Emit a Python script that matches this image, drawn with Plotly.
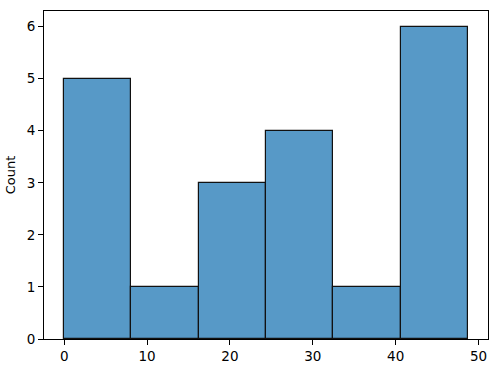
import plotly.graph_objects as go

bin_edges = [0.0, 8.117, 16.233, 24.35, 32.467, 40.583, 48.7]
counts = [5, 1, 3, 4, 1, 6]
x_ticks = [0, 10, 20, 30, 40, 50]
y_ticks = [0, 1, 2, 3, 4, 5, 6]

centers = [(a + b) / 2 for a, b in zip(bin_edges[:-1], bin_edges[1:])]
widths = [b - a for a, b in zip(bin_edges[:-1], bin_edges[1:])]

fig = go.Figure(go.Bar(
    x=centers, y=counts, width=widths,
    marker=dict(color="rgba(31,119,180,0.75)", line=dict(color="#111111", width=1.2)),
))

span = bin_edges[-1] - bin_edges[0]
axis_common = dict(
    showgrid=False, zeroline=False, showline=True, linecolor="black", linewidth=1,
    mirror=True, ticks="outside", ticklen=5, tickwidth=1, tickcolor="black",
    tickfont=dict(family="DejaVu Sans", size=13.5, color="black"),
)
fig.update_layout(
    width=503, height=374,
    margin=dict(l=42, r=15, t=10, b=32),
    plot_bgcolor="white", paper_bgcolor="white",
    showlegend=False,
    bargap=0,
    xaxis=dict(range=[bin_edges[0] - 0.05 * span, bin_edges[-1] + 0.05 * span],
               tickvals=x_ticks, **axis_common),
    yaxis=dict(range=[0, 6.3], tickvals=y_ticks,
               title=dict(text="Count", font=dict(family="DejaVu Sans", size=13, color="black"), standoff=8),
               **axis_common),
)
fig.write_html("out.html")
